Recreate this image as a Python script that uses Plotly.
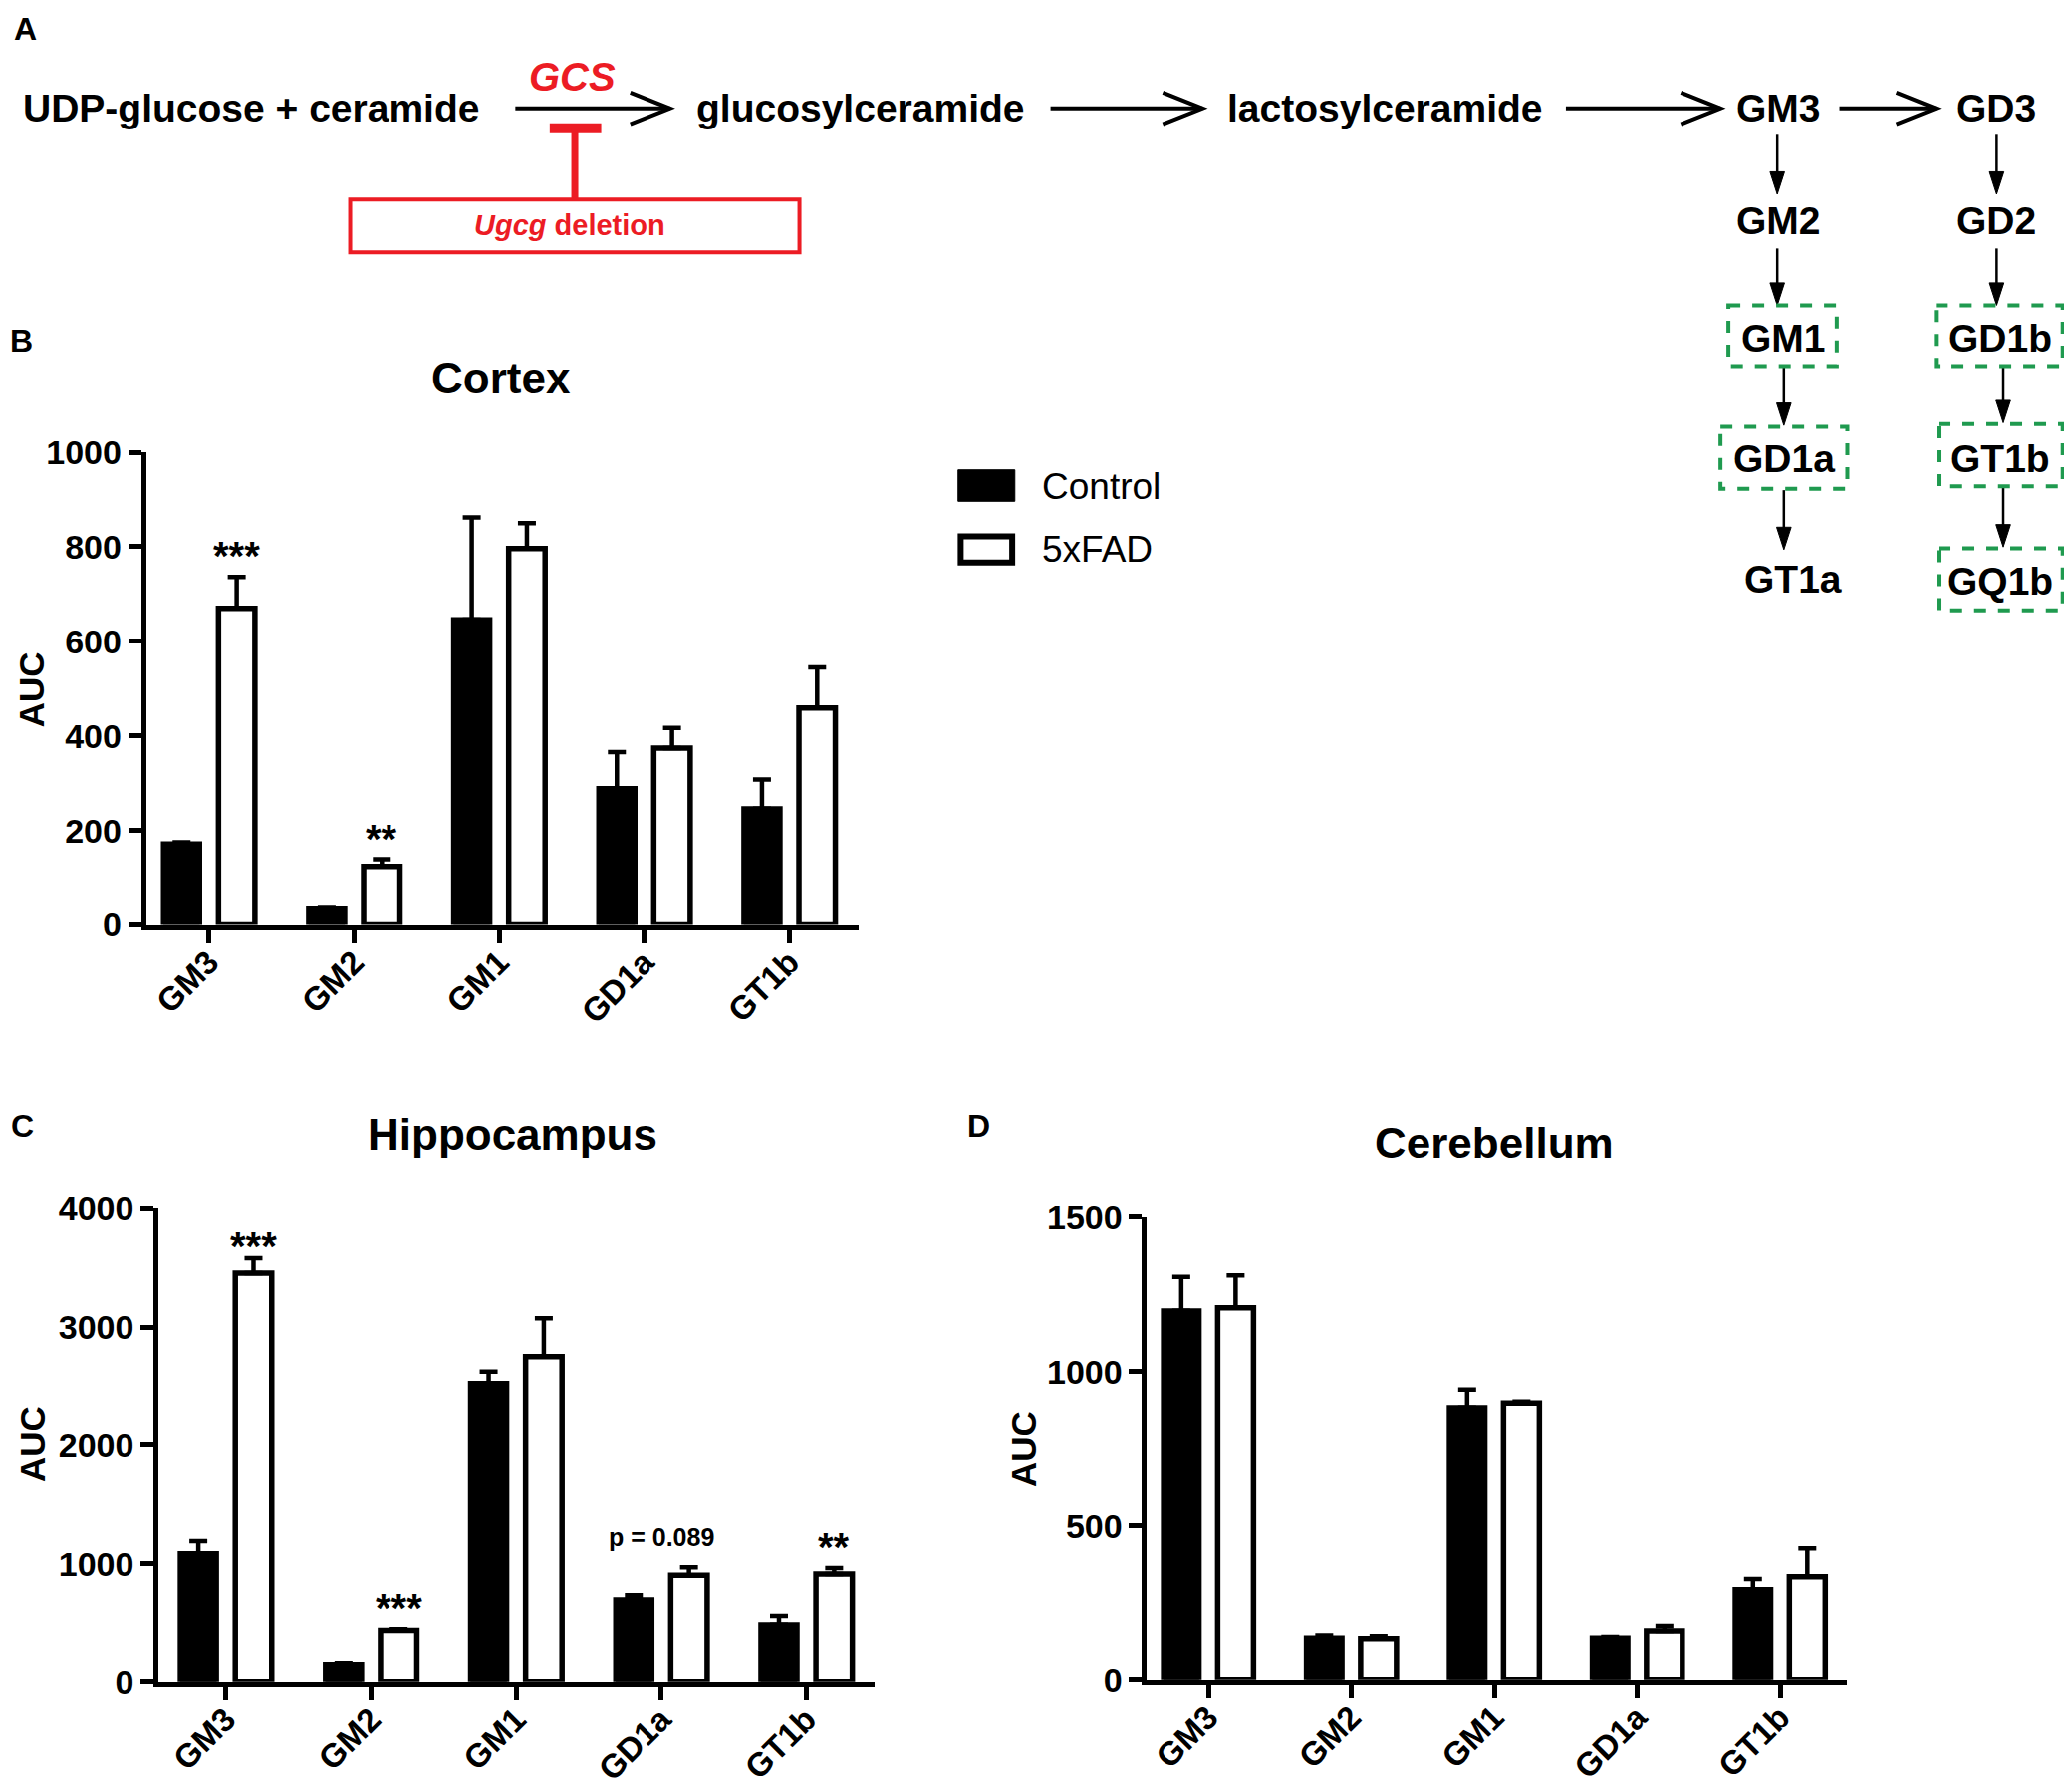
import plotly.graph_objects as go

# ganglioside categories and AUC values (mean, +SEM)
categories = ["GM3", "GM2", "GM1", "GD1a", "GT1b"]

cortex_ctrl = [172, 34, 646, 289, 246]
cortex_ctrl_err = [3, 2, 216, 77, 62]
cortex_fad = [670, 124, 796, 374, 459]
cortex_fad_err = [66, 15, 54, 43, 86]
cortex_sig = ["***", "**", "", "", ""]

hippo_ctrl = [1086, 145, 2526, 697, 488]
hippo_ctrl_err = [106, 15, 99, 38, 72]
hippo_fad = [3455, 438, 2750, 903, 914]
hippo_fad_err = [126, 12, 324, 68, 50]
hippo_sig = ["***", "***", "", "", "**"]

cereb_ctrl = [1197, 138, 884, 138, 294]
cereb_ctrl_err = [109, 8, 58, 3, 34]
cereb_fad = [1206, 135, 898, 160, 335]
cereb_fad_err = [105, 8, 5, 16, 92]

FONT = "Arial, Liberation Sans, sans-serif"
RED = "#ec1c24"
GREEN = "#1f9a4f"

# positions are measured on a 1568-wide copy of the figure; the page body
# has an 8px margin, so the figure is 8px smaller and everything moves back
S = 2080 / 1568
OFF = 8
FW, FH = 2080 - OFF, 1796 - OFF


def X(v):
    return (v * S - OFF) / FW


def Y(v):
    return 1 - (v * S - OFF) / FH


fig = go.Figure()
shapes = []
annotations = []

panels = [
    # ctrl, ctrl err, fad, fad err, axis suffix, x span, y span (0 -> top), ymax, dtick, x range
    (cortex_ctrl, cortex_ctrl_err, cortex_fad, cortex_fad_err, "",
     [110.6, 650], [700, 342.3], 1000, 200, [-0.434, 4.478]),
    (hippo_ctrl, hippo_ctrl_err, hippo_fad, hippo_fad_err, "2",
     [120, 662], [1273, 914.6], 4000, 1000, [-0.464, 4.47]),
    (cereb_ctrl, cereb_ctrl_err, cereb_fad, cereb_fad_err, "3",
     [868, 1398], [1271.5, 921], 1500, 500, [-0.43, 4.47]),
]

for ctrl, ctrl_err, fad, fad_err, sfx, dx, dy, ymax, dtick, xr in panels:
    fig.add_trace(go.Bar(
        x=categories, y=ctrl, name="Control", xaxis="x" + sfx, yaxis="y" + sfx,
        marker=dict(color="black", line=dict(color="black", width=5)),
        error_y=dict(type="data", symmetric=False, array=ctrl_err,
                     arrayminus=[0] * 5, color="black", thickness=4.5, width=9),
        showlegend=False))
    fig.add_trace(go.Bar(
        x=categories, y=fad, name="5xFAD", xaxis="x" + sfx, yaxis="y" + sfx,
        marker=dict(color="white", line=dict(color="black", width=5.5)),
        error_y=dict(type="data", symmetric=False, array=fad_err,
                     arrayminus=[0] * 5, color="black", thickness=4.5, width=9),
        showlegend=False))
    ax = dict(domain=[X(dx[0]), X(dx[1])], anchor="y" + sfx, range=xr,
              showline=True, linewidth=5, linecolor="black", ticks="outside",
              ticklen=13, tickwidth=4.5, tickcolor="black", tickangle=-45,
              ticklabelstandoff=-13,
              showgrid=False, zeroline=False, automargin=False,
              tickfont=dict(family=FONT, size=33, color="black", weight="bold"))
    ay = dict(domain=[Y(dy[0]), Y(dy[1])], anchor="x" + sfx, range=[0, ymax],
              dtick=dtick, showline=True, linewidth=5, linecolor="black",
              ticks="outside", ticklen=13, tickwidth=4.5, tickcolor="black",
              showgrid=False, zeroline=False, automargin=False,
              tickfont=dict(family=FONT, size=34, color="black", weight="bold"))
    fig.update_layout(**{"xaxis" + sfx: ax, "yaxis" + sfx: ay})

# significance marks over the 5xFAD bars
for sig, fad, err, sfx in [(cortex_sig, cortex_fad, cortex_fad_err, ""),
                           (hippo_sig, hippo_fad, hippo_fad_err, "2")]:
    for i, s in enumerate(sig):
        if s:
            # the top mark of the hippocampus panel sits closer to its bar
            shift = 12 if (sfx == "2" and i == 0) else 21
            annotations.append(dict(
                x=i + 0.19, y=fad[i] + err[i], xref="x" + sfx, yref="y" + sfx,
                text="<b>" + s + "</b>", showarrow=False, yanchor="middle",
                yshift=shift, font=dict(family=FONT, size=40, color="black")))
annotations.append(dict(
    x=3, y=hippo_fad[3] + hippo_fad_err[3], xref="x2", yref="y2",
    text="<b>p = 0.089</b>", showarrow=False, yanchor="middle", yshift=30,
    font=dict(family=FONT, size=25, color="black")))


def label(x, y, text, size=39, color="black", anchor="center", angle=0):
    annotations.append(dict(x=X(x), y=Y(y), xref="paper", yref="paper",
                            text=text, showarrow=False, xanchor=anchor,
                            yanchor="middle", textangle=angle,
                            font=dict(family=FONT, size=size, color=color)))


def line(x0, y0, x1, y1, color="black", width=4):
    shapes.append(dict(type="line", xref="paper", yref="paper",
                       x0=X(x0), y0=Y(y0), x1=X(x1), y1=Y(y1),
                       line=dict(color=color, width=width)))


def harrow(x0, x1, y):
    line(x0, y, x1, y)
    shapes.append(dict(type="path", xref="paper", yref="paper",
                       path="M %f,%f L %f,%f L %f,%f" % (
                           X(x1 - 30), Y(y - 12), X(x1), Y(y), X(x1 - 30), Y(y + 12)),
                       line=dict(color="black", width=4)))


def varrow(x, y0, y1):
    line(x, y0, x, y1 - 10, width=2.5)
    shapes.append(dict(type="path", xref="paper", yref="paper",
                       path="M %f,%f L %f,%f L %f,%f Z" % (
                           X(x - 5.5), Y(y1 - 17), X(x), Y(y1), X(x + 5.5), Y(y1 - 17)),
                       fillcolor="black", line=dict(color="black", width=1)))


def dbox(x0, y0, x1, y1):
    shapes.append(dict(type="rect", xref="paper", yref="paper",
                       x0=X(x0), y0=Y(y0), x1=X(x1), y1=Y(y1),
                       line=dict(color=GREEN, width=4, dash="dash")))


# panel A: pathway diagram
label(190, 82, "<b>UDP-glucose + ceramide</b>")
harrow(390, 507, 82)
label(433, 58, "<b><i>GCS</i></b>", size=40, color=RED)
label(651, 82, "<b>glucosylceramide</b>")
harrow(795, 910, 82)
label(1048, 82, "<b>lactosylceramide</b>")
harrow(1185, 1302, 82)
label(1346, 82, "<b>GM3</b>")
harrow(1392, 1465, 82)
label(1511, 82, "<b>GD3</b>")

line(416, 97, 455, 97, color=RED, width=10)
line(435, 97, 435, 151, color=RED, width=7)
shapes.append(dict(type="rect", xref="paper", yref="paper",
                   x0=X(265), y0=Y(151), x1=X(605), y1=Y(191),
                   line=dict(color=RED, width=4)))
label(431, 170, "<b><i>Ugcg</i> deletion</b>", size=29, color=RED)

varrow(1345, 102, 147)
varrow(1345, 188, 231)
varrow(1350, 278, 322)
varrow(1350, 371, 416)
varrow(1511, 102, 147)
varrow(1511, 188, 231)
varrow(1516, 278, 320)
varrow(1516, 368, 414)

dbox(1308, 231, 1390, 277)
dbox(1302, 323, 1398, 370)
dbox(1465, 231, 1561, 277)
dbox(1467, 321, 1561, 368)
dbox(1467, 415, 1561, 462)

label(1346, 167, "<b>GM2</b>")
label(1511, 167, "<b>GD2</b>")
label(1350, 256, "<b>GM1</b>")
label(1514, 256, "<b>GD1b</b>")
label(1350, 347, "<b>GD1a</b>")
label(1514, 347, "<b>GT1b</b>")
label(1357, 438, "<b>GT1a</b>")
label(1514, 440, "<b>GQ1b</b>")

# panel letters, titles, axis titles
label(19, 22, "<b>A</b>", size=32)
label(16, 258, "<b>B</b>", size=32)
label(17, 852, "<b>C</b>", size=32)
label(741, 852, "<b>D</b>", size=32)
label(379, 286, "<b>Cortex</b>", size=44)
label(388, 858, "<b>Hippocampus</b>", size=44)
label(1131, 865, "<b>Cerebellum</b>", size=44)
label(24, 522, "<b>AUC</b>", size=35, angle=-90)
label(25, 1093, "<b>AUC</b>", size=35, angle=-90)
label(774, 1097, "<b>AUC</b>", size=35, angle=-90)

# legend
shapes.append(dict(type="rect", xref="paper", yref="paper",
                   x0=X(725), y0=Y(355.6), x1=X(768), y1=Y(379.4),
                   fillcolor="black", line=dict(color="black", width=1)))
shapes.append(dict(type="rect", xref="paper", yref="paper",
                   x0=X(727), y0=Y(406), x1=X(766), y1=Y(425.7),
                   fillcolor="white", line=dict(color="black", width=6)))
label(787, 368, "Control", size=37, anchor="left")
label(787, 416, "5xFAD", size=37, anchor="left")

fig.update_layout(
    width=FW, height=FH,
    margin=dict(l=0, r=0, t=0, b=0),
    paper_bgcolor="white", plot_bgcolor="white",
    barmode="group", bargap=0.24, bargroupgap=0.34,
    shapes=shapes, annotations=annotations,
)

fig.write_html("out.html")
